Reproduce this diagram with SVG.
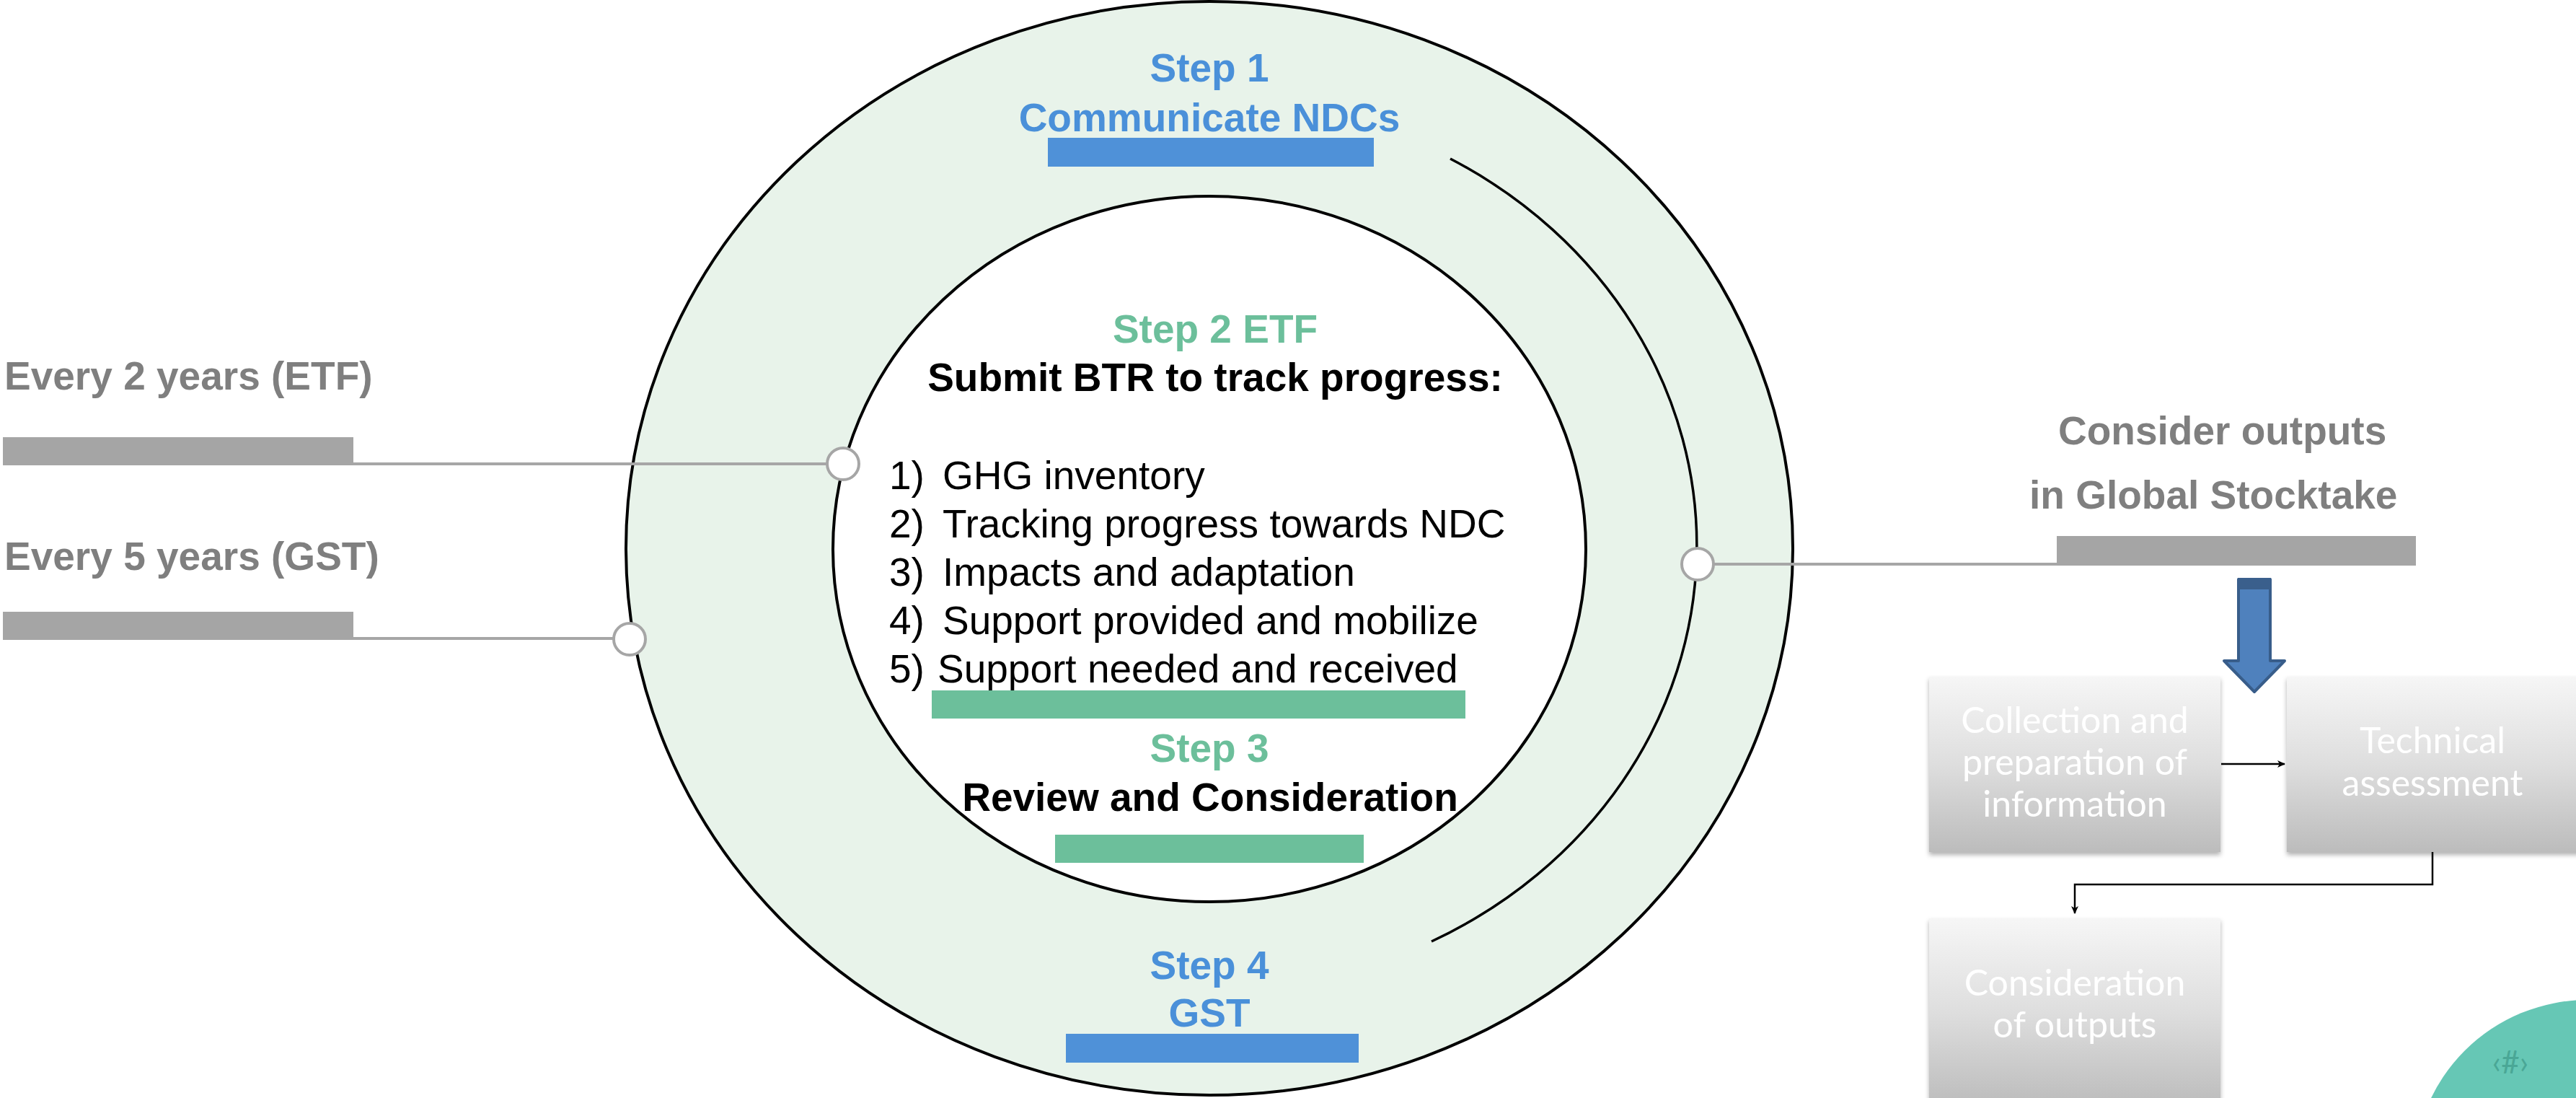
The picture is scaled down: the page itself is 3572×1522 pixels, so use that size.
<svg xmlns="http://www.w3.org/2000/svg" width="3572" height="1522" viewBox="0 0 3572 1522">
<style>
.ttl{font-family:"Liberation Sans",Arial,sans-serif;font-weight:bold;font-size:55px;text-anchor:middle}
.blue{fill:#4A90D9}
.green{fill:#6CBF9B}
.blk{fill:#000}
.item{font-family:"Liberation Sans",Arial,sans-serif;font-size:55px;fill:#000}
.gtxt{font-family:"Liberation Sans",Arial,sans-serif;font-weight:bold;font-size:55px;fill:#7F7F7F}
.gbar{fill:#A5A5A5}
.conn{stroke:#A6A6A6;stroke-width:4;fill:none}
.dot{fill:#fff;stroke:#A6A6A6;stroke-width:4}
.box{fill:url(#boxg);filter:url(#sh)}
.btxt{font-family:Lato,"Open Sans",sans-serif;font-size:50px;fill:#fff;text-anchor:middle}
.flow{stroke:#000;stroke-width:2.5;fill:none;marker-end:url(#ah)}
</style>
<defs>
<linearGradient id="boxg" x1="0" y1="0" x2="0" y2="1">
<stop offset="0" stop-color="#F6F6F6"/>
<stop offset="0.5" stop-color="#DEDEDE"/>
<stop offset="1" stop-color="#BCBCBC"/>
</linearGradient>
<filter id="sh" x="-5%" y="-5%" width="110%" height="115%">
<feDropShadow dx="0" dy="4" stdDeviation="3" flood-color="#000" flood-opacity="0.3"/>
</filter>
<marker id="ah" markerWidth="12" markerHeight="12" refX="10" refY="6" orient="auto" markerUnits="userSpaceOnUse">
<path d="M0,1 L11,6 L0,11 L3,6 z" fill="#000"/>
</marker>
</defs>
<rect width="3572" height="1522" fill="#fff"/>

<g id="ring">
<ellipse cx="1677" cy="760" rx="809" ry="758" fill="#E8F3EA" stroke="#000" stroke-width="4"/>
<ellipse cx="1677" cy="761" rx="522" ry="489" fill="#fff" stroke="#000" stroke-width="4"/>
<path d="M2011 220 A677 617 0 0 1 1985 1305" fill="none" stroke="#000" stroke-width="3.5"/>
</g>

<g id="step1">
<text class="ttl blue" x="1677" y="113">Step 1</text>
<text class="ttl blue" x="1677" y="182">Communicate NDCs</text>
<rect x="1453" y="191" width="452" height="40" fill="#4F91D8"/>
</g>

<g id="step2">
<text class="ttl green" x="1685" y="475">Step 2 ETF</text>
<text class="ttl blk" x="1685" y="542">Submit BTR to track progress:</text>
<text class="item" x="1233" y="678">1)</text><text class="item" x="1307" y="678">GHG inventory</text>
<text class="item" x="1233" y="745">2)</text><text class="item" x="1307" y="745">Tracking progress towards NDC</text>
<text class="item" x="1233" y="812">3)</text><text class="item" x="1307" y="812">Impacts and adaptation</text>
<text class="item" x="1233" y="879">4)</text><text class="item" x="1307" y="879">Support provided and mobilize</text>
<text class="item" x="1233" y="946">5)</text><text class="item" x="1300" y="946">Support needed and received</text>
<rect x="1292" y="957" width="740" height="39" fill="#6CBF9B"/>
</g>

<g id="step3">
<text class="ttl green" x="1677" y="1056">Step 3</text>
<text class="ttl blk" x="1678" y="1124">Review and Consideration</text>
<rect x="1463" y="1157" width="428" height="39" fill="#6CBF9B"/>
</g>

<g id="step4">
<text class="ttl blue" x="1677" y="1357">Step 4</text>
<text class="ttl blue" x="1677" y="1423">GST</text>
<rect x="1478" y="1433" width="406" height="40" fill="#4F91D8"/>
</g>

<g id="connectors">
<line class="conn" x1="488" y1="643" x2="1147" y2="643"/>
<line class="conn" x1="488" y1="885" x2="851" y2="885"/>
<line class="conn" x1="2376" y1="782" x2="2854" y2="782"/>
<path class="flow" d="M3080 1059 L3168 1059"/>
<path class="flow" d="M3373 1181 L3373 1226 L2877 1226 L2877 1266"/>
</g>

<g id="etf-label">
<text class="gtxt" x="6" y="540">Every 2 years (ETF)</text>
<rect class="gbar" x="4" y="606" width="486" height="39"/>
<circle class="dot" cx="1169" cy="643" r="22"/>
</g>

<g id="gst-label">
<text class="gtxt" x="6" y="790">Every 5 years (GST)</text>
<rect class="gbar" x="4" y="848" width="486" height="39"/>
<circle class="dot" cx="873" cy="886" r="22"/>
</g>

<g id="stocktake-label">
<circle class="dot" cx="2354" cy="782" r="22"/>
<text class="gtxt" x="2854" y="616">Consider outputs</text>
<text class="gtxt" x="2814" y="705">in Global Stocktake</text>
<rect class="gbar" x="2852" y="743" width="498" height="41"/>
</g>

<g id="down-arrow">
<path d="M3104 803 L3148 803 L3148 916 L3168 916 L3126 959 L3084 916 L3104 916 Z" fill="#4F81BD" stroke="#385D8A" stroke-width="4" stroke-linejoin="round"/>
<rect x="3103" y="801" width="46" height="16" fill="#3A5F8C"/>
</g>

<g id="box-collection">
<rect class="box" x="2675" y="938" width="404" height="243"/>
<text class="btxt" x="2877" y="1016">Collection and</text>
<text class="btxt" x="2877" y="1074">preparation of</text>
<text class="btxt" x="2877" y="1132">information</text>
</g>

<g id="box-technical">
<rect class="box" x="3171" y="938" width="410" height="243"/>
<text class="btxt" x="3373" y="1044">Technical</text>
<text class="btxt" x="3373" y="1103">assessment</text>
</g>

<g id="box-consideration">
<rect class="box" x="2675" y="1273" width="404" height="260"/>
<text class="btxt" x="2877" y="1380">Consideration</text>
<text class="btxt" x="2877" y="1438">of outputs</text>
</g>

<g id="page-number">
<circle cx="3588" cy="1627" r="241" fill="#66C7B5"/>
<text x="3481" y="1488" font-family="Lato,'Open Sans',sans-serif" font-size="44" fill="#4AA796" text-anchor="middle">‹#›</text>
</g>
</svg>
